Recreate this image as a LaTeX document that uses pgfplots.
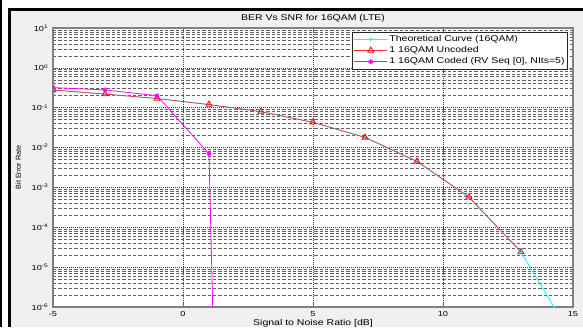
\documentclass[border=0pt]{standalone}
\usepackage{pgfplots}
\pgfplotsset{compat=1.18}
\usepackage{fontspec}
\setmainfont{Liberation Sans}[FakeStretch=1.25]
\newfontfamily\plainsans{Liberation Sans}
\definecolor{figbg}{HTML}{F0F0F0}
\definecolor{mlcyan}{HTML}{00FFFF}
\definecolor{mlred}{HTML}{FF0000}
\definecolor{mlmag}{HTML}{FF00FF}
\begin{document}
\begin{tikzpicture}
\begin{scope}[x=0.75pt,y=0.75pt]
\path[use as bounding box] (0,0) rectangle (583,327);
\fill[white] (0,0) rectangle (583,327);
\fill[figbg] (11,0) rectangle (583,316);
\fill[black] (0,0) rectangle (2,327);
\fill[black] (8,0) rectangle (11,319);
\fill[black] (8,316) rectangle (583,319);
\end{scope}
\begin{axis}[
  at={(39.75pt,15pt)}, anchor=south west,
  scale only axis, width=390pt, height=209.25pt,
  ymode=log, log basis y=10,
  xmin=-5, xmax=15, ymin=1e-6, ymax=10,
  xtick={-5,0,5,10,15},
  ytick={1e-6,1e-5,1e-4,1e-3,1e-2,1e-1,1,10},
  minor ytick={2e-6,3e-6,4e-6,5e-6,6e-6,7e-6,8e-6,9e-6,
    2e-5,3e-5,4e-5,5e-5,6e-5,7e-5,8e-5,9e-5,
    2e-4,3e-4,4e-4,5e-4,6e-4,7e-4,8e-4,9e-4,
    2e-3,3e-3,4e-3,5e-3,6e-3,7e-3,8e-3,9e-3,
    2e-2,3e-2,4e-2,5e-2,6e-2,7e-2,8e-2,9e-2,
    0.2,0.3,0.4,0.5,0.6,0.7,0.8,0.9,
    2,3,4,5,6,7,8,9},
  axis background/.style={fill=white},
  axis line style={black!50, line width=0.8pt},
  tick align=inside,
  major tick length=3pt, minor tick length=1.5pt,
  tick style={black!60, line width=0.4pt},
  grid=both,
  major grid style={black!75, line width=0.45pt, dash pattern=on 0.75pt off 0.75pt},
  minor grid style={black!62, line width=0.4pt, dash pattern=on 2.5pt off 1.5pt},
  /pgf/number format/assume math mode=true,
  tick label style={font=\fontsize{5.5}{6}\selectfont},
  yticklabel={10\textsuperscript{\pgfmathparse{int(round(\tick))}\pgfmathresult}},
  every axis title shift=0pt,
  title={BER Vs SNR for 16QAM (LTE)},
  title style={at={(axis description cs:0.5,1.034)}, anchor=center, font=\fontsize{6.3}{7}\selectfont},
  xlabel={Signal to Noise Ratio [dB]},
  xlabel style={at={(axis description cs:0.5,-0.058)}, anchor=center, font=\fontsize{6.3}{7}\selectfont},
  ylabel={Bit Error Rate},
  ylabel style={at={(axis description cs:-0.0667,0.5)}, anchor=center, rotate=0, font=\plainsans\fontsize{5.4}{6}\selectfont},
  clip marker paths=true,
  legend style={at={(axis description cs:0.990,0.9857)}, anchor=north east,
    draw=black!85, fill=white, font=\fontsize{6.3}{7}\selectfont,
    inner sep=1pt, row sep=0pt, nodes={inner sep=1.2pt}},
  legend cell align=left,
  legend image code/.code={\draw[mark repeat=2,mark phase=2,#1] plot coordinates {(0pt,0pt)(12.5pt,0pt)(25pt,0pt)};},
]
\addplot[mlcyan, line width=0.6pt, mark=*, mark size=0.8pt] coordinates {
(-5,0.28)(-3,0.22)(-1,0.17)(1,0.12)(3,0.08)(5,0.043)(7,0.018)(9,0.0045)(11,5.7e-4)(13,2.4e-5)(15,1.6e-7)};
\addplot[mlred!85, line width=0.5pt, mark=triangle, mark size=2.6pt, mark options={solid, line width=0.6pt, draw=mlred}] coordinates {
(-5,0.28)(-3,0.22)(-1,0.17)(1,0.12)(3,0.08)(5,0.043)(7,0.018)(9,0.0045)(11,5.7e-4)(13,2.4e-5)};
\addplot[mlmag, line width=0.6pt, mark=asterisk, mark size=1.8pt, mark options={line width=0.9pt}] coordinates {
(-5,0.32)(-3,0.28)(-1,0.2)(1,0.007)(1.3,5.6e-11)};
\legend{Theoretical Curve (16QAM), 1 16QAM Uncoded, {1 16QAM Coded (RV Seq [0], NIts=5)}}
\end{axis}
\end{tikzpicture}
\end{document}
